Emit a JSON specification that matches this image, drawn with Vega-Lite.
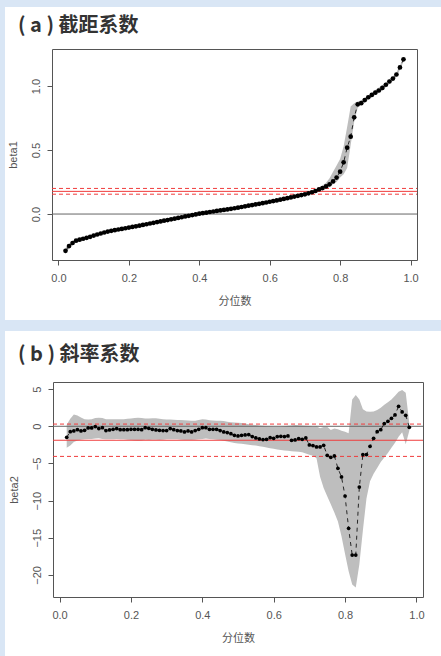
{
  "$schema": "https://vega.github.io/schema/vega-lite/v6.json",
  "background": "#d9e6f5",
  "padding": {"left": 5, "top": 7, "right": 0, "bottom": 0},
  "spacing": 11,
  "config": {
    "view": {"fill": "white", "stroke": null},
    "axis": {"labelFont": "Liberation Sans", "labelFontSize": 11, "labelColor": "#555", "titleFont": "Noto Sans CJK SC", "titleFontSize": 11, "titleColor": "#555", "titleFontWeight": "normal", "domainColor": "#555", "tickColor": "#555", "grid": false, "labelFlush": false, "labelOverlap": false, "zindex": 1, "tickSize": 5}
  },
  "datasets": {
    "a": [
      {"tau":0.02,"coef":-0.287,"lo":-0.31,"hi":-0.265},{"tau":0.03,"coef":-0.25,"lo":-0.27,"hi":-0.232},{"tau":0.04,"coef":-0.226,"lo":-0.243,"hi":-0.21},{"tau":0.05,"coef":-0.208,"lo":-0.222,"hi":-0.195},
      {"tau":0.06,"coef":-0.2,"lo":-0.212,"hi":-0.188},{"tau":0.07,"coef":-0.193,"lo":-0.205,"hi":-0.181},{"tau":0.08,"coef":-0.186,"lo":-0.198,"hi":-0.174},{"tau":0.09,"coef":-0.178,"lo":-0.19,"hi":-0.166},
      {"tau":0.1,"coef":-0.168,"lo":-0.18,"hi":-0.156},{"tau":0.11,"coef":-0.16,"lo":-0.172,"hi":-0.148},{"tau":0.12,"coef":-0.152,"lo":-0.164,"hi":-0.14},{"tau":0.13,"coef":-0.144,"lo":-0.156,"hi":-0.132},
      {"tau":0.14,"coef":-0.137,"lo":-0.149,"hi":-0.125},{"tau":0.15,"coef":-0.131,"lo":-0.143,"hi":-0.119},{"tau":0.16,"coef":-0.126,"lo":-0.138,"hi":-0.114},{"tau":0.17,"coef":-0.121,"lo":-0.133,"hi":-0.109},
      {"tau":0.18,"coef":-0.116,"lo":-0.128,"hi":-0.104},{"tau":0.19,"coef":-0.111,"lo":-0.123,"hi":-0.099},{"tau":0.2,"coef":-0.106,"lo":-0.118,"hi":-0.094},{"tau":0.21,"coef":-0.101,"lo":-0.113,"hi":-0.089},
      {"tau":0.22,"coef":-0.096,"lo":-0.108,"hi":-0.084},{"tau":0.23,"coef":-0.091,"lo":-0.103,"hi":-0.079},{"tau":0.24,"coef":-0.085,"lo":-0.097,"hi":-0.073},{"tau":0.25,"coef":-0.08,"lo":-0.092,"hi":-0.068},
      {"tau":0.26,"coef":-0.074,"lo":-0.086,"hi":-0.062},{"tau":0.27,"coef":-0.069,"lo":-0.081,"hi":-0.057},{"tau":0.28,"coef":-0.063,"lo":-0.075,"hi":-0.051},{"tau":0.29,"coef":-0.058,"lo":-0.07,"hi":-0.046},
      {"tau":0.3,"coef":-0.052,"lo":-0.064,"hi":-0.04},{"tau":0.31,"coef":-0.047,"lo":-0.059,"hi":-0.035},{"tau":0.32,"coef":-0.041,"lo":-0.053,"hi":-0.029},{"tau":0.33,"coef":-0.036,"lo":-0.048,"hi":-0.024},
      {"tau":0.34,"coef":-0.03,"lo":-0.042,"hi":-0.018},{"tau":0.35,"coef":-0.025,"lo":-0.037,"hi":-0.013},{"tau":0.36,"coef":-0.019,"lo":-0.031,"hi":-0.007},{"tau":0.37,"coef":-0.014,"lo":-0.026,"hi":-0.002},
      {"tau":0.38,"coef":-0.008,"lo":-0.02,"hi":0.004},{"tau":0.39,"coef":-0.003,"lo":-0.015,"hi":0.009},{"tau":0.4,"coef":0.003,"lo":-0.009,"hi":0.015},{"tau":0.41,"coef":0.007,"lo":-0.005,"hi":0.019},
      {"tau":0.42,"coef":0.011,"lo":-0.001,"hi":0.023},{"tau":0.43,"coef":0.016,"lo":0.004,"hi":0.028},{"tau":0.44,"coef":0.02,"lo":0.008,"hi":0.032},{"tau":0.45,"coef":0.024,"lo":0.012,"hi":0.036},
      {"tau":0.46,"coef":0.028,"lo":0.016,"hi":0.04},{"tau":0.47,"coef":0.032,"lo":0.02,"hi":0.044},{"tau":0.48,"coef":0.036,"lo":0.024,"hi":0.048},{"tau":0.49,"coef":0.041,"lo":0.029,"hi":0.053},
      {"tau":0.5,"coef":0.045,"lo":0.033,"hi":0.057},{"tau":0.51,"coef":0.05,"lo":0.038,"hi":0.062},{"tau":0.52,"coef":0.055,"lo":0.043,"hi":0.067},{"tau":0.53,"coef":0.06,"lo":0.048,"hi":0.072},
      {"tau":0.54,"coef":0.065,"lo":0.053,"hi":0.077},{"tau":0.55,"coef":0.07,"lo":0.058,"hi":0.082},{"tau":0.56,"coef":0.075,"lo":0.063,"hi":0.087},{"tau":0.57,"coef":0.08,"lo":0.068,"hi":0.092},
      {"tau":0.58,"coef":0.085,"lo":0.073,"hi":0.097},{"tau":0.59,"coef":0.09,"lo":0.078,"hi":0.102},{"tau":0.6,"coef":0.096,"lo":0.084,"hi":0.108},{"tau":0.61,"coef":0.101,"lo":0.089,"hi":0.113},
      {"tau":0.62,"coef":0.106,"lo":0.094,"hi":0.118},{"tau":0.63,"coef":0.112,"lo":0.1,"hi":0.124},{"tau":0.64,"coef":0.118,"lo":0.106,"hi":0.13},{"tau":0.65,"coef":0.124,"lo":0.112,"hi":0.136},
      {"tau":0.66,"coef":0.13,"lo":0.118,"hi":0.142},{"tau":0.67,"coef":0.136,"lo":0.124,"hi":0.148},{"tau":0.68,"coef":0.142,"lo":0.13,"hi":0.154},{"tau":0.69,"coef":0.148,"lo":0.136,"hi":0.16},
      {"tau":0.7,"coef":0.154,"lo":0.145,"hi":0.163},{"tau":0.71,"coef":0.162,"lo":0.152,"hi":0.172},{"tau":0.72,"coef":0.17,"lo":0.158,"hi":0.183},{"tau":0.73,"coef":0.18,"lo":0.167,"hi":0.195},
      {"tau":0.74,"coef":0.192,"lo":0.177,"hi":0.208},{"tau":0.75,"coef":0.203,"lo":0.187,"hi":0.222},{"tau":0.76,"coef":0.216,"lo":0.198,"hi":0.245},{"tau":0.77,"coef":0.232,"lo":0.212,"hi":0.28},
      {"tau":0.78,"coef":0.255,"lo":0.232,"hi":0.33},{"tau":0.79,"coef":0.285,"lo":0.25,"hi":0.38},{"tau":0.8,"coef":0.331,"lo":0.285,"hi":0.43},{"tau":0.81,"coef":0.404,"lo":0.31,"hi":0.53},
      {"tau":0.82,"coef":0.518,"lo":0.36,"hi":0.68},{"tau":0.83,"coef":0.604,"lo":0.54,"hi":0.84},{"tau":0.84,"coef":0.755,"lo":0.72,"hi":0.866},{"tau":0.85,"coef":0.857,"lo":0.83,"hi":0.878},
      {"tau":0.86,"coef":0.866,"lo":0.855,"hi":0.888},{"tau":0.87,"coef":0.89,"lo":0.872,"hi":0.905},{"tau":0.88,"coef":0.912,"lo":0.893,"hi":0.928},{"tau":0.89,"coef":0.93,"lo":0.912,"hi":0.948},
      {"tau":0.9,"coef":0.948,"lo":0.93,"hi":0.968},{"tau":0.91,"coef":0.965,"lo":0.946,"hi":0.988},{"tau":0.92,"coef":0.985,"lo":0.965,"hi":1.005},{"tau":0.93,"coef":1.01,"lo":0.99,"hi":1.03},
      {"tau":0.94,"coef":1.035,"lo":1.015,"hi":1.055},{"tau":0.95,"coef":1.058,"lo":1.04,"hi":1.076},{"tau":0.96,"coef":1.09,"lo":1.07,"hi":1.106},{"tau":0.97,"coef":1.145,"lo":1.126,"hi":1.162},
      {"tau":0.98,"coef":1.208,"lo":1.19,"hi":1.222}
    ],
    "b": [
      {"tau":0.02,"coef":-1.48,"lo":-2.9,"hi":0.2},{"tau":0.03,"coef":-0.72,"lo":-2.6,"hi":1.0},{"tau":0.04,"coef":-0.63,"lo":-2.1,"hi":1.6},{"tau":0.05,"coef":-0.45,"lo":-1.9,"hi":1.45},
      {"tau":0.06,"coef":-0.63,"lo":-1.8,"hi":1.2},{"tau":0.07,"coef":-0.54,"lo":-1.75,"hi":0.95},{"tau":0.08,"coef":-0.22,"lo":-1.7,"hi":0.9},{"tau":0.09,"coef":-0.22,"lo":-1.7,"hi":0.95},
      {"tau":0.1,"coef":-0.04,"lo":-1.65,"hi":1.1},{"tau":0.11,"coef":-0.31,"lo":-1.6,"hi":1.15},{"tau":0.12,"coef":-0.18,"lo":-1.7,"hi":1.1},{"tau":0.13,"coef":-0.58,"lo":-1.75,"hi":0.95},
      {"tau":0.14,"coef":-0.49,"lo":-1.75,"hi":0.95},{"tau":0.15,"coef":-0.4,"lo":-1.75,"hi":0.95},{"tau":0.16,"coef":-0.31,"lo":-1.7,"hi":0.95},{"tau":0.17,"coef":-0.45,"lo":-1.75,"hi":0.95},
      {"tau":0.18,"coef":-0.45,"lo":-1.75,"hi":0.95},{"tau":0.19,"coef":-0.45,"lo":-1.8,"hi":1.0},{"tau":0.2,"coef":-0.4,"lo":-1.85,"hi":1.05},{"tau":0.21,"coef":-0.4,"lo":-1.9,"hi":1.1},
      {"tau":0.22,"coef":-0.4,"lo":-1.93,"hi":1.16},{"tau":0.23,"coef":-0.45,"lo":-1.9,"hi":1.1},{"tau":0.24,"coef":-0.18,"lo":-1.8,"hi":1.05},{"tau":0.25,"coef":-0.27,"lo":-1.85,"hi":1.05},
      {"tau":0.26,"coef":-0.4,"lo":-1.8,"hi":1.07},{"tau":0.27,"coef":-0.49,"lo":-1.8,"hi":1.07},{"tau":0.28,"coef":-0.54,"lo":-1.85,"hi":1.0},{"tau":0.29,"coef":-0.58,"lo":-1.8,"hi":0.95},
      {"tau":0.3,"coef":-0.58,"lo":-1.75,"hi":0.9},{"tau":0.31,"coef":-0.31,"lo":-1.75,"hi":0.9},{"tau":0.32,"coef":-0.45,"lo":-1.75,"hi":0.88},{"tau":0.33,"coef":-0.58,"lo":-1.75,"hi":0.85},
      {"tau":0.34,"coef":-0.63,"lo":-1.8,"hi":0.85},{"tau":0.35,"coef":-0.76,"lo":-1.85,"hi":0.8},{"tau":0.36,"coef":-0.63,"lo":-1.85,"hi":0.78},{"tau":0.37,"coef":-0.76,"lo":-1.85,"hi":0.76},
      {"tau":0.38,"coef":-0.58,"lo":-1.8,"hi":0.76},{"tau":0.39,"coef":-0.4,"lo":-1.75,"hi":0.85},{"tau":0.4,"coef":-0.18,"lo":-1.7,"hi":0.94},{"tau":0.41,"coef":-0.18,"lo":-1.65,"hi":0.9},
      {"tau":0.42,"coef":-0.4,"lo":-1.7,"hi":0.8},{"tau":0.43,"coef":-0.4,"lo":-1.75,"hi":0.78},{"tau":0.44,"coef":-0.4,"lo":-1.8,"hi":0.76},{"tau":0.45,"coef":-0.58,"lo":-1.85,"hi":0.76},
      {"tau":0.46,"coef":-0.76,"lo":-1.95,"hi":0.7},{"tau":0.47,"coef":-0.85,"lo":-2.05,"hi":0.6},{"tau":0.48,"coef":-0.99,"lo":-2.15,"hi":0.55},{"tau":0.49,"coef":-1.21,"lo":-2.25,"hi":0.5},
      {"tau":0.5,"coef":-1.3,"lo":-2.3,"hi":0.49},{"tau":0.51,"coef":-1.21,"lo":-2.35,"hi":0.45},{"tau":0.52,"coef":-1.17,"lo":-2.42,"hi":0.38},{"tau":0.53,"coef":-1.12,"lo":-2.5,"hi":0.28},
      {"tau":0.54,"coef":-1.39,"lo":-2.55,"hi":0.2},{"tau":0.55,"coef":-1.57,"lo":-2.6,"hi":0.17},{"tau":0.56,"coef":-1.7,"lo":-2.68,"hi":0.12},{"tau":0.57,"coef":-1.79,"lo":-2.76,"hi":0.08},
      {"tau":0.58,"coef":-1.75,"lo":-2.85,"hi":0.02},{"tau":0.59,"coef":-1.53,"lo":-2.95,"hi":-0.04},{"tau":0.6,"coef":-1.62,"lo":-3.03,"hi":-0.05},{"tau":0.61,"coef":-1.39,"lo":-3.12,"hi":-0.05},
      {"tau":0.62,"coef":-1.35,"lo":-3.2,"hi":-0.05},{"tau":0.63,"coef":-1.39,"lo":-3.25,"hi":0.0},{"tau":0.64,"coef":-1.3,"lo":-3.3,"hi":0.07},{"tau":0.65,"coef":-1.88,"lo":-3.35,"hi":0.12},
      {"tau":0.66,"coef":-1.84,"lo":-3.38,"hi":0.17},{"tau":0.67,"coef":-1.66,"lo":-3.41,"hi":0.15},{"tau":0.68,"coef":-1.75,"lo":-3.5,"hi":0.1},{"tau":0.69,"coef":-1.57,"lo":-3.65,"hi":0.06},
      {"tau":0.7,"coef":-2.51,"lo":-3.82,"hi":0.03},{"tau":0.71,"coef":-2.6,"lo":-3.95,"hi":-0.05},{"tau":0.72,"coef":-2.78,"lo":-4.3,"hi":0.0},{"tau":0.73,"coef":-2.78,"lo":-6.8,"hi":-0.25},
      {"tau":0.74,"coef":-2.56,"lo":-8.3,"hi":-0.1},{"tau":0.75,"coef":-3.9,"lo":-9.4,"hi":-0.05},{"tau":0.76,"coef":-4.17,"lo":-10.5,"hi":-0.5},{"tau":0.77,"coef":-3.99,"lo":-11.6,"hi":-0.3},
      {"tau":0.78,"coef":-5.65,"lo":-12.8,"hi":-0.4},{"tau":0.79,"coef":-6.82,"lo":-14.8,"hi":-0.6},{"tau":0.8,"coef":-9.38,"lo":-17.2,"hi":-0.75},{"tau":0.81,"coef":-13.73,"lo":-19.5,"hi":-0.95},
      {"tau":0.82,"coef":-17.32,"lo":-21.3,"hi":3.6},{"tau":0.83,"coef":-17.32,"lo":-21.7,"hi":4.2},{"tau":0.84,"coef":-8.17,"lo":-18.6,"hi":3.6},{"tau":0.85,"coef":-3.81,"lo":-14.0,"hi":2.3},
      {"tau":0.86,"coef":-3.81,"lo":-9.7,"hi":2.0},{"tau":0.87,"coef":-2.69,"lo":-7.4,"hi":1.95},{"tau":0.88,"coef":-1.62,"lo":-6.4,"hi":2.0},{"tau":0.89,"coef":-0.72,"lo":-5.6,"hi":2.2},
      {"tau":0.9,"coef":-0.45,"lo":-4.8,"hi":2.5},{"tau":0.91,"coef":0.36,"lo":-4.2,"hi":2.9},{"tau":0.92,"coef":0.67,"lo":-3.6,"hi":3.25},{"tau":0.93,"coef":1.08,"lo":-2.9,"hi":3.6},
      {"tau":0.94,"coef":1.53,"lo":-2.2,"hi":4.1},{"tau":0.95,"coef":2.69,"lo":-1.4,"hi":4.66},{"tau":0.96,"coef":1.93,"lo":-0.8,"hi":4.89},{"tau":0.97,"coef":1.48,"lo":-2.4,"hi":4.5},
      {"tau":0.98,"coef":-0.13,"lo":-0.6,"hi":0.4}
    ],
    "ra": [{"v":0.2,"k":"ci"},{"v":0.177,"k":"ols"},{"v":0.155,"k":"ci"}],
    "rb": [{"v":0.3,"k":"ci"},{"v":-1.88,"k":"ols"},{"v":-4.05,"k":"ci"}]
  },
  "vconcat": [
    {
      "width": 436, "height": 313,
      "title": {"text": "( a ) 截距系数", "anchor": "start", "frame": "group", "font": "Noto Sans CJK SC", "fontSize": 20, "fontWeight": "bold", "color": "#333", "baseline": "top", "offset": -29, "dx": 13},
      "resolve": {"axis": {"x": "independent", "y": "independent"}},
      "layer": [
        {
          "data": {"name": "a"},
          "mark": {"type": "area", "color": "#bebebe"},
          "encoding": {
            "x": {"field": "tau", "type": "quantitative", "scale": {"domain": [-0.0184, 1.0184], "range": [47, 412], "nice": false, "zero": false},
                  "axis": {"orient": "bottom", "offset": -60, "values": [0, 0.2, 0.4, 0.6, 0.8, 1.0], "format": ".1f", "labelPadding": 7, "title": "分位数", "titlePadding": 12}},
            "y": {"field": "lo", "type": "quantitative", "scale": {"domain": [-0.359, 1.289], "range": [253, 42], "nice": false, "zero": false},
                  "axis": {"orient": "left", "offset": -47, "values": [0, 0.5, 1.0], "format": ".1f", "labelAngle": 270, "labelAlign": "center", "labelBaseline": "bottom", "labelPadding": 6, "title": "beta1", "titleFont": "Liberation Sans", "titlePadding": 12}},
            "y2": {"field": "hi"}
          }
        },
        {
          "data": {"name": "ra"},
          "transform": [{"filter": "datum.k === 'ci'"}],
          "mark": {"type": "rule", "color": "#f03c3c", "strokeDash": [4, 3], "strokeWidth": 1},
          "encoding": {"y": {"field": "v", "type": "quantitative", "axis": null}, "x": {"datum": -0.0184, "axis": null}, "x2": {"datum": 1.0184}}
        },
        {
          "data": {"name": "ra"},
          "transform": [{"filter": "datum.k === 'ols'"}],
          "mark": {"type": "rule", "color": "#f03c3c", "strokeWidth": 1},
          "encoding": {"y": {"field": "v", "type": "quantitative", "axis": null}, "x": {"datum": -0.0184, "axis": null}, "x2": {"datum": 1.0184}}
        },
        {
          "data": {"values": [{"z": 0}]},
          "mark": {"type": "rule", "color": "#666", "strokeWidth": 1},
          "encoding": {"y": {"field": "z", "type": "quantitative", "axis": null}, "x": {"datum": -0.0184, "axis": null}, "x2": {"datum": 1.0184}}
        },
        {
          "data": {"name": "a"},
          "mark": {"type": "line", "color": "black", "strokeWidth": 0.8, "strokeDash": [4, 4]},
          "encoding": {"x": {"field": "tau", "type": "quantitative", "axis": null}, "y": {"field": "coef", "type": "quantitative", "axis": null}}
        },
        {
          "data": {"name": "a"},
          "mark": {"type": "circle", "color": "black", "opacity": 1, "size": 22},
          "encoding": {
            "x": {"field": "tau", "type": "quantitative", "axis": {"orient": "top", "offset": -42, "ticks": false, "labels": false, "title": null}},
            "y": {"field": "coef", "type": "quantitative", "axis": {"orient": "right", "offset": -24, "ticks": false, "labels": false, "title": null}}
          }
        }
      ]
    },
    {
      "width": 436, "height": 325,
      "title": {"text": "( b ) 斜率系数", "anchor": "start", "frame": "group", "font": "Noto Sans CJK SC", "fontSize": 20, "fontWeight": "bold", "color": "#333", "baseline": "top", "offset": -34, "dx": 13},
      "resolve": {"axis": {"x": "independent", "y": "independent"}},
      "layer": [
        {
          "data": {"name": "b"},
          "mark": {"type": "area", "color": "#bebebe"},
          "encoding": {
            "x": {"field": "tau", "type": "quantitative", "scale": {"domain": [-0.0184, 1.0184], "range": [48, 418], "nice": false, "zero": false},
                  "axis": {"orient": "bottom", "offset": -59, "values": [0, 0.2, 0.4, 0.6, 0.8, 1.0], "format": ".1f", "labelPadding": 7, "title": "分位数", "titlePadding": 12}},
            "y": {"field": "lo", "type": "quantitative", "scale": {"domain": [-22.97, 5.96], "range": [266, 51], "nice": false, "zero": false},
                  "axis": {"orient": "left", "offset": -48, "values": [-20, -15, -10, -5, 0, 5], "format": "d", "labelAngle": 270, "labelAlign": "center", "labelBaseline": "bottom", "labelPadding": 6, "title": "beta2", "titleFont": "Liberation Sans", "titlePadding": 12}},
            "y2": {"field": "hi"}
          }
        },
        {
          "data": {"name": "rb"},
          "transform": [{"filter": "datum.k === 'ci'"}],
          "mark": {"type": "rule", "color": "#f03c3c", "strokeDash": [4, 3], "strokeWidth": 1},
          "encoding": {"y": {"field": "v", "type": "quantitative", "axis": null}, "x": {"datum": -0.0184, "axis": null}, "x2": {"datum": 1.0184}}
        },
        {
          "data": {"name": "rb"},
          "transform": [{"filter": "datum.k === 'ols'"}],
          "mark": {"type": "rule", "color": "#f03c3c", "strokeWidth": 1},
          "encoding": {"y": {"field": "v", "type": "quantitative", "axis": null}, "x": {"datum": -0.0184, "axis": null}, "x2": {"datum": 1.0184}}
        },
        {
          "data": {"values": [{"z": 0}]},
          "mark": {"type": "rule", "color": "#666", "strokeWidth": 1},
          "encoding": {"y": {"field": "z", "type": "quantitative", "axis": null}, "x": {"datum": -0.0184, "axis": null}, "x2": {"datum": 1.0184}}
        },
        {
          "data": {"name": "b"},
          "mark": {"type": "line", "color": "black", "strokeWidth": 0.8, "strokeDash": [4, 4]},
          "encoding": {"x": {"field": "tau", "type": "quantitative", "axis": null}, "y": {"field": "coef", "type": "quantitative", "axis": null}}
        },
        {
          "data": {"name": "b"},
          "mark": {"type": "circle", "color": "black", "opacity": 1, "size": 14},
          "encoding": {
            "x": {"field": "tau", "type": "quantitative", "axis": {"orient": "top", "offset": -51, "ticks": false, "labels": false, "title": null}},
            "y": {"field": "coef", "type": "quantitative", "axis": {"orient": "right", "offset": -18, "ticks": false, "labels": false, "title": null}}
          }
        }
      ]
    }
  ]
}
